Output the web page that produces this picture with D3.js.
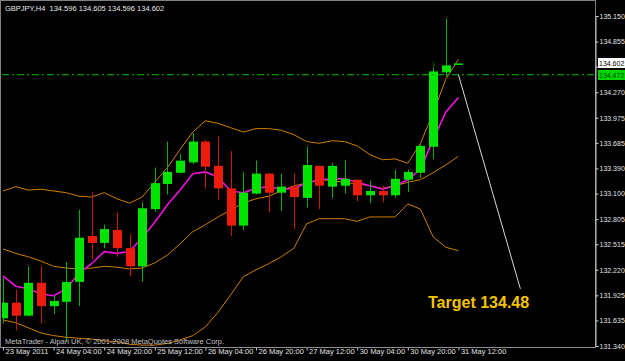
<!DOCTYPE html>
<html>
<head>
<meta charset="utf-8">
<script src="https://cdn.jsdelivr.net/npm/d3@7"></script>
<style>
  html, body { margin: 0; padding: 0; background: #000; }
  svg { display: block; }
  text { font-family: "Liberation Sans", Arial, sans-serif; }
</style>
</head>
<body>
<svg id="chart"></svg>
<script>
// GBPJPY H4 bars
const barTimes = ["23 May 12:00","23 May 16:00","23 May 20:00","24 May 00:00","24 May 04:00","24 May 08:00",
  "24 May 12:00","24 May 16:00","24 May 20:00","25 May 00:00","25 May 04:00","25 May 08:00","25 May 12:00",
  "25 May 16:00","25 May 20:00","26 May 00:00","26 May 04:00","26 May 08:00","26 May 12:00","26 May 16:00",
  "26 May 20:00","27 May 00:00","27 May 04:00","27 May 08:00","27 May 12:00","27 May 16:00","27 May 20:00",
  "30 May 00:00","30 May 04:00","30 May 08:00","30 May 12:00","30 May 16:00","30 May 20:00","31 May 00:00",
  "31 May 04:00","31 May 08:00","31 May 12:00"];

const open  = [131.66,131.84,131.69,132.07,131.80,131.85,132.08,132.61,132.53,132.68,132.47,132.26,132.92,
  133.21,133.34,133.46,133.70,133.42,133.16,132.73,133.10,133.33,133.11,133.18,133.05,133.42,133.18,133.19,
  133.26,133.08,133.13,133.08,133.26,133.34,133.64,134.50,134.596];
const high  = [132.13,131.99,132.26,132.26,131.92,132.31,132.91,133.12,132.74,132.88,132.63,133.00,133.40,
  133.70,133.55,133.80,133.72,133.76,133.59,133.35,133.48,133.34,133.33,133.33,133.64,133.42,133.45,133.49,
  133.26,133.25,133.19,133.37,133.38,133.67,134.56,135.12,134.605];
const low   = [131.60,131.52,131.68,131.60,131.71,131.39,131.80,132.34,132.47,132.37,132.15,132.08,132.89,
  133.09,133.33,133.44,133.16,133.03,132.61,132.68,133.09,132.89,132.90,132.69,132.94,132.92,133.05,133.10,
  133.01,132.99,133.00,133.05,133.12,133.28,133.50,134.45,134.596];
const close = [131.84,131.69,132.07,131.80,131.86,132.08,132.59,132.53,132.69,132.47,132.26,132.93,133.22,
  133.35,133.48,133.70,133.41,133.16,132.73,133.11,133.33,133.11,133.18,133.06,133.43,133.19,133.42,133.27,
  133.08,133.13,133.08,133.27,133.35,133.65,134.51,134.58,134.602];

// Bollinger bands and the moving average, read per bar
const bbUpper  = [133.13,133.18,133.14,133.15,133.13,133.11,133.07,133.06,133.11,133.04,132.99,133.06,133.23,
  133.40,133.61,133.81,133.94,133.91,133.86,133.81,133.85,133.85,133.83,133.78,133.70,133.68,133.71,133.70,
  133.65,133.55,133.49,133.50,133.45,133.68,134.03,134.42,134.65];
const bbMiddle = [132.46,132.41,132.37,132.32,132.26,132.24,132.23,132.24,132.26,132.25,132.23,132.24,132.30,
  132.39,132.52,132.66,132.74,132.83,132.91,132.99,133.04,133.07,133.13,133.19,133.22,133.26,133.25,133.23,
  133.21,133.19,133.16,133.19,133.23,133.26,133.34,133.43,133.53];
const bbLower  = [131.64,131.61,131.55,131.49,131.46,131.44,131.43,131.42,131.40,131.39,131.36,131.35,131.35,
  131.37,131.41,131.46,131.56,131.73,131.93,132.14,132.22,132.29,132.37,132.47,132.75,132.81,132.81,132.81,
  132.78,132.83,132.83,132.83,132.98,132.92,132.60,132.48,132.44];
const maLine   = [132.15,132.03,132.00,131.94,131.92,132.00,132.18,132.29,132.43,132.41,132.43,132.59,132.77,
  132.97,133.14,133.33,133.35,133.29,133.13,133.11,133.16,133.18,133.15,133.16,133.22,133.26,133.27,133.27,
  133.23,133.19,133.15,133.19,133.26,133.38,133.72,134.04,134.21];

// 134.560 sits under the price boxes, so only its tick mark shows
const yTickLabels = ["135.150","134.855","134.270","133.975","133.685","133.390","133.100",
  "132.805","132.515","132.220","131.925","131.635","131.340"];
const yHiddenTicks = [134.560];
const xTickBars   = [0,4,8,12,16,20,24,28,32,36];
const xTickLabels = ["23 May 2011","24 May 04:00","24 May 20:00","25 May 12:00","26 May 04:00",
  "26 May 20:00","27 May 12:00","30 May 04:00","30 May 20:00","31 May 12:00"];

const header = "GBPJPY,H4  134.596 134.605 134.596 134.602";
const bidPrice = 134.602;
const linePrice = 134.472;
const trendBars = [36, 40.9];
const trendPrices = [134.472, 132.0];
const targetText = "Target 134.48";

const width = 625, height = 361;
const plotRight = 595, plotBottom = 347;

const svg = d3.select("#chart").attr("width", width).attr("height", height);
svg.append("rect").attr("width", width).attr("height", height).attr("fill", "#000");

const x = d3.scaleLinear().domain([0, 36]).range([3, 458.4]);
const y = d3.scaleLinear().domain([131.34, 135.15]).range([346, 16]);

const clip = svg.append("defs").append("clipPath").attr("id", "plot");
clip.append("rect").attr("x", 2).attr("y", 2).attr("width", plotRight - 2).attr("height", plotBottom - 2);

const g = svg.append("g").attr("clip-path", "url(#plot)");

const bars = barTimes.map((t, i) => ({ t, i, o: open[i], h: high[i], l: low[i], c: close[i] }));

// Bands
const line = d3.line().x((d, i) => x(i)).y(d => y(d));
[bbUpper, bbMiddle, bbLower].forEach(s => {
  g.append("path").attr("d", line(s)).attr("fill", "none")
    .attr("stroke", "#d07c00").attr("stroke-width", 1);
});
g.append("path").attr("d", line(maLine)).attr("fill", "none")
  .attr("stroke", "#f010e0").attr("stroke-width", 1.6);

// Candles
const up = "#00e400", down = "#ee1c0c";
const candle = g.selectAll(".bar").data(bars).enter().append("g").attr("class", "bar");
candle.append("line")
  .attr("x1", d => Math.round(x(d.i)) + 0.5).attr("x2", d => Math.round(x(d.i)) + 0.5)
  .attr("y1", d => y(d.h)).attr("y2", d => y(d.l))
  .attr("stroke", d => d.c >= d.o ? "#00b400" : "#c81808").attr("stroke-width", 1);
candle.append("rect")
  .attr("x", d => Math.round(x(d.i)) - 4)
  .attr("width", 9)
  .attr("y", d => y(Math.max(d.o, d.c)))
  .attr("height", d => Math.max(1.5, Math.abs(y(d.o) - y(d.c))))
  .attr("fill", d => d.c >= d.o ? up : down);

// Bid line (dash-dot)
g.append("line").attr("x1", 2).attr("x2", plotRight).attr("y1", y(linePrice)).attr("y2", y(linePrice))
  .attr("stroke", "#00c000").attr("stroke-width", 1).attr("stroke-dasharray", "7,3,2,3");

// Target trendline
g.append("line")
  .attr("x1", x(trendBars[0])).attr("y1", y(trendPrices[0]))
  .attr("x2", x(trendBars[1])).attr("y2", y(trendPrices[1]))
  .attr("stroke", "#d8d8d8").attr("stroke-width", 1);

// small object label
g.append("text").attr("x", x(34) - 1).attr("y", y(134.56) - 1)
  .attr("fill", "#008000").attr("font-size", "6px").text("1");

g.append("text").attr("x", x(33.6)).attr("y", y(131.78))
  .attr("fill", "#f5c400").attr("font-size", "16px").attr("font-weight", "bold").text(targetText);

// Frame
svg.append("rect").attr("x", 0.5).attr("y", 0.5).attr("width", plotRight).attr("height", plotBottom)
  .attr("fill", "none").attr("stroke", "#808080");

// Right axis
const yAxis = d3.axisRight(y).tickValues(yTickLabels.map(Number)).tickSize(3).tickPadding(1)
  .tickFormat((d, i) => yTickLabels[i]);
const ya = svg.append("g").attr("transform", `translate(${plotRight + 0.5},0)`).call(yAxis);
ya.select(".domain").attr("stroke", "#c8c8c8");
ya.selectAll(".tick line").attr("stroke", "#c8c8c8");
ya.selectAll(".tick text").attr("fill", "#e0e0e0").attr("font-size", "7px")
  .attr("font-family", "Liberation Sans, Arial, sans-serif");
yHiddenTicks.forEach(v => {
  ya.append("line").attr("x1", 0).attr("x2", 3).attr("y1", y(v)).attr("y2", y(v)).attr("stroke", "#c8c8c8");
});

// Bottom axis
const xAxis = d3.axisBottom(x).tickValues(xTickBars).tickSize(3).tickSizeOuter(0)
  .tickFormat((d, i) => xTickLabels[i]);
const xa = svg.append("g").attr("transform", `translate(0,${plotBottom + 0.5})`).call(xAxis);
xa.select(".domain").remove();
xa.selectAll(".tick line").attr("stroke", "#c8c8c8");
xa.selectAll(".tick text").attr("fill", "#e0e0e0").attr("font-size", "7.5px")
  .attr("font-family", "Liberation Sans, Arial, sans-serif")
  .attr("text-anchor", "start").attr("x", 2).attr("dy", "0.6em").attr("y", 2);
svg.append("line").attr("x1", 0).attr("x2", plotRight).attr("y1", plotBottom + 0.5).attr("y2", plotBottom + 0.5)
  .attr("stroke", "#909090");

// Price labels on the axis
const boxes = [
  { p: bidPrice, bg: "#ffffff", fg: "#000000" },
  { p: linePrice, bg: "#00d800", fg: "#004000" }
];
boxes.forEach(b => {
  const yy = Math.round(y(b.p));
  svg.append("rect").attr("x", plotRight + 3).attr("y", yy - 5).attr("width", width - plotRight - 3).attr("height", 10)
    .attr("fill", b.bg);
  svg.append("text").attr("x", plotRight + 4).attr("y", yy + 3).attr("fill", b.fg)
    .attr("font-size", "7px").text(b.p.toFixed(3));
});

// Header and copyright
svg.append("text").attr("x", 5).attr("y", 11).attr("fill", "#e8e8e8").attr("font-size", "7.5px")
  .attr("xml:space", "preserve").style("white-space", "pre").text(header);
svg.append("text").attr("x", 5).attr("y", 344).attr("fill", "#c0c0c0").attr("font-size", "7.5px")
  .text("MetaTrader - Alpari UK, \u00a9 2001-2008 MetaQuotes Software Corp.");
</script>
</body>
</html>
